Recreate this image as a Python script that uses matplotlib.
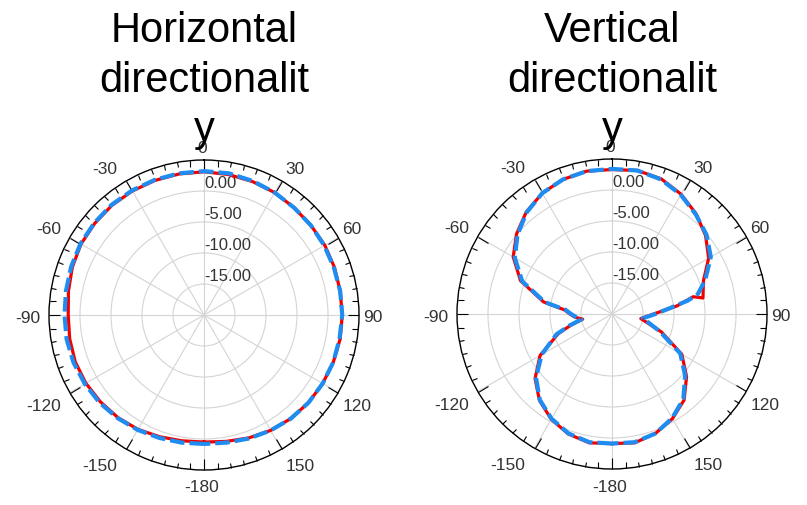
import numpy as np
import matplotlib.pyplot as plt
from matplotlib.transforms import offset_copy

plt.rcParams['font.family'] = ['Liberation Sans', 'DejaVu Sans']

titles = ['Horizontal\ndirectionalit\ny', 'Vertical\ndirectionalit\ny']

# horizontal directionality, every 10 deg from -180 to 180
theta_h = list(range(-180, 181, 10))
red_h = [0.5, 0.6, 0.9, 1.3, 1.6, 1.8, 2.0, 2.1, 2.0, 1.9, 2.2, 2.6, 2.9, 3.0, 3.1, 3.1, 3.1, 3.1, 3.1,
         3.0, 2.9, 2.8, 2.6, 2.5, 2.5, 2.4, 2.3, 2.3, 2.3, 2.2, 2.1, 2.0, 1.8, 1.5, 1.1, 0.7, 0.5]
blue_h = [0.8, 0.9, 1.1, 1.4, 1.7, 2.0, 2.2, 2.4, 2.5, 2.5, 2.6, 2.8, 3.0, 3.1, 3.2, 3.2, 3.2, 3.2, 3.2,
          3.2, 3.0, 2.8, 2.6, 2.5, 2.4, 2.3, 2.3, 2.3, 2.2, 2.2, 2.1, 2.0, 1.8, 1.5, 1.2, 0.9, 0.8]

# vertical directionality
theta_v_red = [-180, -170, -160, -150, -140, -130, -120, -110, -105, -100, -95, -90, -85, -80,
               -70, -60, -50, -40, -30, -20, -10, 0, 10, 20, 30, 40, 50, 60, 70,
               80, 78, 83, 90, 99, 105, 110, 120, 130, 140, 150, 160, 170, 180]
red_v = [0.9, 1.1, 0.6, -0.4, -1.8, -3.8, -6.6, -10.8, -13.2, -15.2, -14.0, -13.2, -12.3, -8.8,
         -4.3, -1.6, 0.1, 1.5, 2.5, 3.1, 3.4, 3.3, 3.5, 3.2, 2.3, 1.1, -0.3, -2.0, -4.3,
         -5.1, -6.6, -9.5, -13.3, -15.3, -13.8, -11.5, -7.0, -4.3, -1.9, -0.5, 0.5, 1.1, 0.9]
theta_v_blue = [-180, -170, -160, -150, -140, -130, -120, -110, -105, -100, -95, -90, -85, -80,
                -70, -60, -50, -40, -30, -20, -10, 0, 10, 20, 30, 40, 50, 60, 70,
                77, 80, 84, 90, 98, 105, 110, 120, 130, 140, 150, 160, 170, 180]
blue_v = [0.9, 1.0, 0.5, -0.5, -1.9, -4.0, -6.9, -10.5, -13.0, -15.0, -14.2, -13.4, -12.5, -9.0,
          -4.6, -1.9, -0.1, 1.4, 2.5, 3.1, 3.4, 3.4, 3.5, 3.1, 2.2, 1.0, -0.1, -1.6, -4.0,
          -5.8, -7.6, -10.5, -13.0, -15.0, -13.5, -11.8, -7.3, -4.6, -2.1, -0.6, 0.5, 1.0, 0.9]

angle_ticks = [0, 30, 60, 90, 120, 150, 180, 210, 240, 270, 300, 330]
angle_labels = ['0', '30', '60', '90', '120', '150', '-180', '-150', '-120', '-90', '-60', '-30']
ring_values = [-15, -10, -5, 0]
ring_labels = ['-15.00', '-10.00', '-5.00', '0.00']

fig = plt.figure(figsize=(8.07, 5.05), dpi=100)
boxes = [[49 / 807, 35 / 505, 310 / 807, 310 / 505],
         [457 / 807, 36 / 505, 310 / 807, 310 / 505]]
series = [(theta_h, red_h, theta_h, blue_h), (theta_v_red, red_v, theta_v_blue, blue_v)]

for box, title, (tr, vr, tb, vb) in zip(boxes, titles, series):
    ax = fig.add_axes(box, projection='polar')
    ax.set_theta_zero_location('N')
    ax.set_theta_direction(-1)
    ax.set_ylim(-20, 5)

    ax.plot(np.deg2rad(tr), vr, color='#f20000', lw=2.3, zorder=3)
    ax.plot(np.deg2rad(tb), vb, color='#1e8cf0', lw=3, ls=(0, (3.5, 1.2)), zorder=4)

    ax.set_xticks(np.deg2rad(angle_ticks))
    ax.set_xticklabels([])
    ax.set_xticks(np.deg2rad(np.arange(0, 360, 5)), minor=True)
    ax.tick_params(axis='x', which='both', bottom=False, top=True, direction='in', width=0.8)
    ax.tick_params(axis='x', which='major', length=8)
    ax.tick_params(axis='x', which='minor', length=4)
    ax.set_yticks(ring_values)
    ax.set_yticklabels([])
    ax.grid(True, color='#d4d4d4', lw=0.8)
    ax.spines['polar'].set_linewidth(1.0)
    ax.spines['polar'].set_color('black')

    # angle labels: right-aligned on the left half, left-aligned on the right half
    for a, lab in zip(angle_ticks, angle_labels):
        s, c = np.sin(np.deg2rad(a)), np.cos(np.deg2rad(a))
        if s > 0.1:
            ha, dx = 'left', 4
        elif s < -0.1:
            ha, dx = 'right', -9
        else:
            ha, dx = 'center', -2
        dy = 2 - 15 * np.sign(c) * np.sqrt(abs(c))
        trans = offset_copy(ax.transData, fig=fig, x=dx, y=-dy - 1, units='dots')
        ax.text(np.deg2rad(a), 5, lab, transform=trans, ha=ha, va='center',
                fontsize=12.5, color='#333333', clip_on=False)

    for r, lab in zip(ring_values, ring_labels):
        ax.text(0, r, lab, ha='left', va='bottom', fontsize=12, color='#333333', zorder=2)

    cx = box[0] + box[2] / 2
    fig.text(cx, 1 - 11 / 505, title, ha='center', va='top', fontsize=30, linespacing=1.31, zorder=10)

fig.savefig('out.png', dpi=100)
